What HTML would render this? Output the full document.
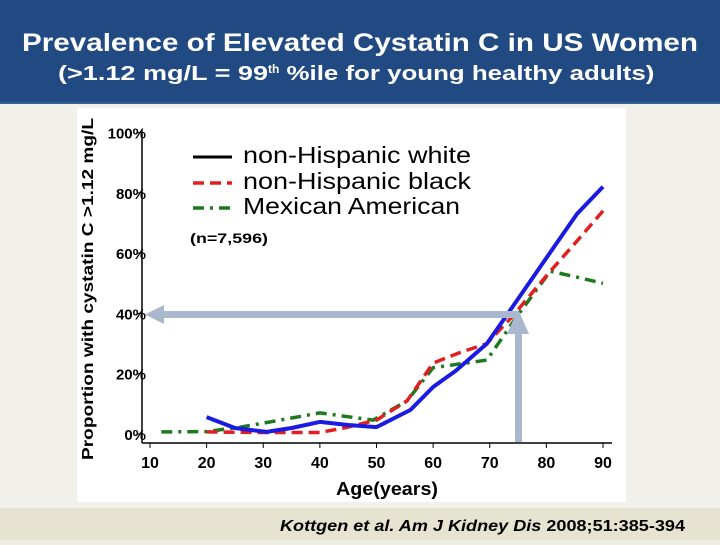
<!DOCTYPE html>
<html><head><meta charset="utf-8"><style>
body{margin:0;width:720px;height:540px;overflow:hidden;background:#eeede4;font-family:"Liberation Sans",Arial,sans-serif}
</style></head><body>
<svg width="720" height="540" xmlns="http://www.w3.org/2000/svg">
<rect x="0" y="0" width="720" height="104" fill="#214a82"/>
<rect x="0" y="102" width="720" height="2" fill="#3a5e92"/>
<rect x="0" y="104" width="720" height="404" fill="#f1f0ea"/>
<rect x="0" y="508" width="720" height="32" fill="#e6e4d0"/>
<rect x="77" y="108" width="549" height="394" fill="#ffffff"/>
<text x="22" y="51" textLength="676" lengthAdjust="spacingAndGlyphs" font-size="25" font-weight="bold" fill="#fff">Prevalence of Elevated Cystatin C in US Women</text>
<text x="58" y="80" font-size="20" font-weight="bold" fill="#fff"><tspan textLength="210" lengthAdjust="spacingAndGlyphs">(&gt;1.12 mg/L = 99</tspan><tspan font-size="12" dy="-7">th</tspan><tspan dy="7" textLength="375" lengthAdjust="spacingAndGlyphs"> %ile for young healthy adults)</tspan></text>
<text transform="translate(93,289) rotate(-90)" text-anchor="middle" textLength="342" lengthAdjust="spacingAndGlyphs" font-size="16" font-weight="bold" fill="#000">Proportion with cystatin C &gt;1.12 mg/L</text>
<g id="axes"></g>
<g id="series"></g>
<g>
<line x1="193" y1="157" x2="232" y2="157" stroke="#000" stroke-width="3"/>
<line x1="193" y1="183" x2="232" y2="183" stroke="#e02020" stroke-width="3.5" stroke-dasharray="11,6"/>
<line x1="193" y1="208" x2="232" y2="208" stroke="#1e7a1e" stroke-width="3.5" stroke-dasharray="11,6,3,6"/>
<text x="243" y="163" font-size="23" textLength="228" lengthAdjust="spacingAndGlyphs">non-Hispanic white</text>
<text x="243" y="189" font-size="23" textLength="228" lengthAdjust="spacingAndGlyphs">non-Hispanic black</text>
<text x="243" y="214" font-size="23" textLength="217" lengthAdjust="spacingAndGlyphs">Mexican American</text>
<text x="190" y="243" font-size="14" font-weight="bold" textLength="78" lengthAdjust="spacingAndGlyphs">(n=7,596)</text>
</g>
<g fill="#a9b8cc">
<rect x="160" y="311" width="358" height="7"/>
<polygon points="145,314.5 164,305 164,324"/>
<rect x="515" y="325" width="7" height="117"/>
<polygon points="518,309 507,334 529,334"/>
</g>
<text x="387" y="495" text-anchor="middle" font-size="18" font-weight="bold" textLength="102" lengthAdjust="spacingAndGlyphs">Age(years)</text>
<text x="280" y="531" font-size="16" font-weight="bold" textLength="405" lengthAdjust="spacingAndGlyphs"><tspan font-style="italic">Kottgen et al. Am J Kidney Dis</tspan> 2008;51:385-394</text>
</svg>
<script>
const xTicks=[10,20,30,40,50,60,70,80,90];
const yTicks=[0,20,40,60,80,100];
const whiteAge=[20,25,30.6,35,40,45,50,56,60,64,69.5,73.6,79.5,85.4,90];
const whiteVal=[5.6,2,0.7,2,4,3,2.3,8,15.6,21,30,41,57,73,82];
const blackAge=[20,30,40,45,50,55.4,60,64.7,69.5,74,80.7,85.4,90];
const blackVal=[0.7,0.5,0.5,2.3,4.6,11,23.5,27,30,39,54,64,74];
const mexAge=[12,20,26,33,40,49.4,55.4,60,69.5,74.8,80.7,85.4,90];
const mexVal=[0.7,0.8,2.3,4.6,7,4.6,11,22,24.5,39,54,52,50];
const NS="http://www.w3.org/2000/svg";
const xs=a=>150+(a-10)*(603-150)/80;
const ys=v=>434-v*3.015;
const axes=document.getElementById('axes');
function mk(tag,attrs,parent){const e=document.createElementNS(NS,tag);for(const k in attrs)e.setAttribute(k,attrs[k]);parent.appendChild(e);return e;}
let l=mk('line',{x1:142,y1:130,x2:142,y2:443,stroke:'#000','stroke-width':1.5},axes);


l=mk('line',{x1:142,y1:443,x2:612,y2:443,stroke:'#000','stroke-width':1.5},axes);


yTicks.forEach(v=>{
 const y=ys(v);
 const t=mk('line',{x1:138,y1:y,x2:142,y2:y,stroke:'#000'},axes);
 
 
 const tx=mk('text',{x:146,y:y+6,'text-anchor':'end','font-size':15,'font-weight':'bold'},axes);
 tx.textContent=v+'%';
 
 
});
xTicks.forEach(a=>{
 const x=xs(a);
 const t=mk('line',{x1:x,y1:443,x2:x,y2:448,stroke:'#000'},axes);
 
 
 const tx=mk('text',{x:x,y:468,'text-anchor':'middle','font-size':16,'font-weight':'bold'},axes);
 tx.textContent=a;
 
 
});
const sg=document.getElementById('series');
function draw(ag,vals,stroke,dash,name,w){
 const pts=ag.map((a,i)=>xs(a).toFixed(1)+','+ys(vals[i]).toFixed(1)).join(' ');
 const p=mk('polyline',{points:pts,fill:'none',stroke:stroke,'stroke-width':w,'stroke-linejoin':'round'},sg);
 if(dash)p.setAttribute('stroke-dasharray',dash);
 
 
}
draw(mexAge,mexVal,'#1e7a1e','11,6,3,6','series-mexican-american',3.5);
draw(blackAge,blackVal,'#e02020','11,6','series-non-hispanic-black',3.5);
draw(whiteAge,whiteVal,'#1a1ae0',null,'series-non-hispanic-white',4);
</script>
</body></html>
